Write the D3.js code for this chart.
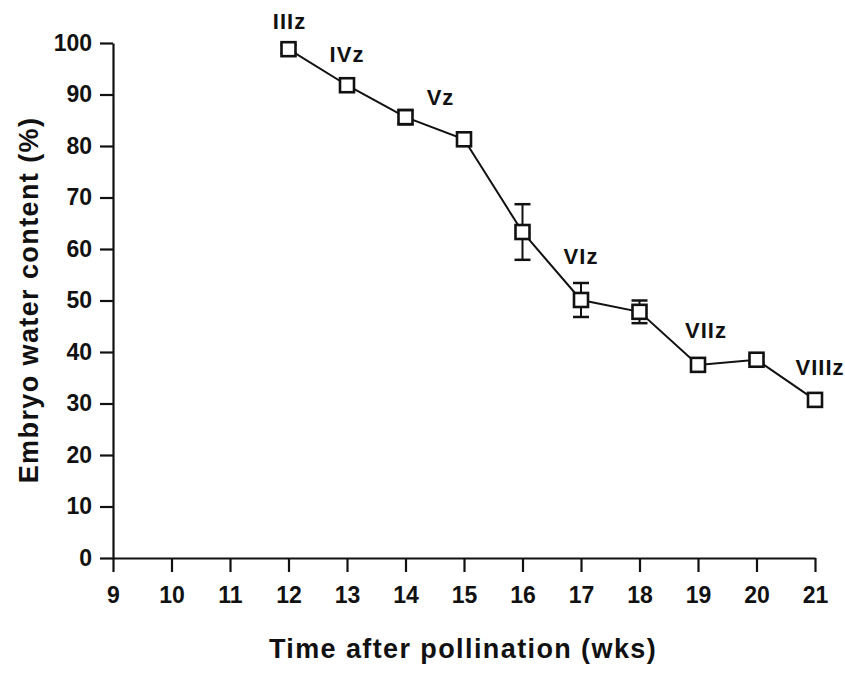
<!DOCTYPE html>
<html>
<head>
<meta charset="utf-8">
<script src="https://cdn.jsdelivr.net/npm/d3@7"></script>
<style>
  body { margin: 0; background: #fff; }
  text { font-family: "Liberation Sans", Arial, Helvetica, sans-serif; font-weight: bold; fill: #111; }
</style>
</head>
<body>
<div id="chart"></div>
<script>
// data
var weeks = [12, 13, 14, 15, 16, 17, 18, 19, 20, 21];
var water = [98.8, 91.8, 85.6, 81.3, 63.3, 50.1, 47.8, 37.5, 38.5, 30.7];
var errs = [0.8, 0.9, 1.4, 0.9, 5.4, 3.3, 2.2, 0.9, 0.7, 1.1];
var stages = [
  { week: 12, label: "IIIz", dx: 1, dy: -20 },
  { week: 13, label: "IVz", dx: 0, dy: -23 },
  { week: 14, label: "Vz", dx: 35, dy: -12 },
  { week: 17, label: "VIz", dx: 0, dy: -36 },
  { week: 19, label: "VIIz", dx: 8, dy: -27 },
  { week: 21, label: "VIIIz", dx: 5, dy: -25 }
];
var xTicks = d3.range(9, 22);
var yTicks = d3.range(0, 101, 10);

var margin = { top: 43, right: 30, bottom: 115, left: 113 };
var width = 845 - margin.left - margin.right,
    height = 673 - margin.top - margin.bottom;

var svg = d3.select("#chart").append("svg")
    .attr("width", 845)
    .attr("height", 673)
  .append("g")
    .attr("transform", "translate(" + margin.left + "," + margin.top + ")");

var x = d3.scaleLinear().domain([9, 21]).range([0, 702]);
var y = d3.scaleLinear().domain([0, 100]).range([height, 0]);

// axes
var xAxis = svg.append("g")
    .attr("transform", "translate(0," + height + ")")
    .call(d3.axisBottom(x).tickValues(xTicks).tickSize(14).tickPadding(15).tickSizeOuter(0));
var yAxis = svg.append("g")
    .call(d3.axisLeft(y).tickValues(yTicks).tickSize(13).tickPadding(8).tickSizeOuter(0));

[xAxis, yAxis].forEach(function(a) {
  a.select(".domain").attr("stroke", "#111").attr("stroke-width", 2.2);
  a.selectAll(".tick line").attr("stroke", "#111").attr("stroke-width", 2.2);
  a.selectAll(".tick text")
    .style("font-size", "23px")
    .style("font-family", "'Liberation Sans', Arial, sans-serif")
    .style("font-weight", "bold")
    .attr("fill", "#111");
});

// axis titles
svg.append("text")
    .attr("x", 350)
    .attr("y", height + 100)
    .attr("text-anchor", "middle")
    .style("font-size", "27px")
    .style("letter-spacing", "1.4px")
    .text("Time after pollination (wks)");

svg.append("text")
    .attr("transform", "translate(" + (38 - margin.left) + "," + (300 - margin.top) + ") rotate(-90)")
    .attr("text-anchor", "middle")
    .style("font-size", "27px")
    .style("letter-spacing", "1.4px")
    .text("Embryo water content (%)");

var pts = weeks.map(function(w, i) { return { week: w, val: water[i], err: errs[i] }; });

// connecting line
var line = d3.line()
    .x(function(d) { return x(d.week); })
    .y(function(d) { return y(d.val); });

svg.append("path")
    .datum(pts)
    .attr("fill", "none")
    .attr("stroke", "#111")
    .attr("stroke-width", 2)
    .attr("d", line);

// error bars
var eb = svg.selectAll(".err").data(pts).enter().append("g").attr("class", "err");
eb.append("line")
    .attr("x1", function(d) { return x(d.week); })
    .attr("x2", function(d) { return x(d.week); })
    .attr("y1", function(d) { return y(d.val + d.err); })
    .attr("y2", function(d) { return y(d.val - d.err); })
    .attr("stroke", "#111").attr("stroke-width", 2);
eb.selectAll(".cap")
    .data(function(d) { return [d.val + d.err, d.val - d.err].map(function(v) { return { week: d.week, v: v }; }); })
    .enter().append("line")
    .attr("class", "cap")
    .attr("x1", function(d) { return x(d.week) - 8; })
    .attr("x2", function(d) { return x(d.week) + 8; })
    .attr("y1", function(d) { return y(d.v); })
    .attr("y2", function(d) { return y(d.v); })
    .attr("stroke", "#111").attr("stroke-width", 2.5);

// square markers
svg.selectAll(".pt").data(pts).enter().append("rect")
    .attr("class", "pt")
    .attr("x", function(d) { return x(d.week) - 7; })
    .attr("y", function(d) { return y(d.val) - 7; })
    .attr("width", 14)
    .attr("height", 14)
    .attr("fill", "#fff")
    .attr("stroke", "#111")
    .attr("stroke-width", 2.6);

// stage labels
svg.selectAll(".stage").data(stages).enter().append("text")
    .attr("class", "stage")
    .attr("x", function(d) { return x(d.week) + d.dx; })
    .attr("y", function(d) { return y(water[weeks.indexOf(d.week)]) + d.dy; })
    .attr("text-anchor", "middle")
    .style("font-size", "22px")
    .style("letter-spacing", "1px")
    .text(function(d) { return d.label; });
</script>
</body>
</html>
